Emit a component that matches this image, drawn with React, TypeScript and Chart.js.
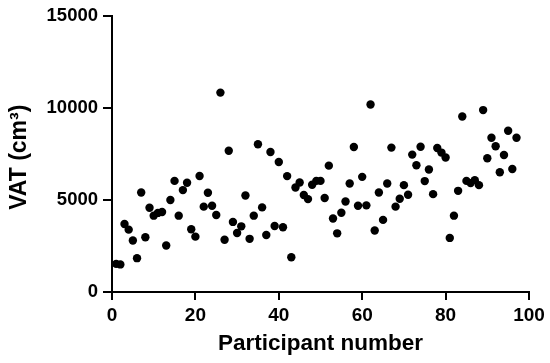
import { useEffect, useRef } from "react";
import { Chart, registerables } from "chart.js";

Chart.register(...registerables);

const participantNumbers = [
  1, 2, 3, 4, 5, 6, 7, 8, 9, 10, 11, 12, 13, 14, 15, 16, 17, 18, 19, 20,
  21, 22, 23, 24, 25, 26, 27, 28, 29, 30, 31, 32, 33, 34, 35, 36, 37, 38, 39, 40,
  41, 42, 43, 44, 45, 46, 47, 48, 49, 50, 51, 52, 53, 54, 55, 56, 57, 58, 59, 60,
  61, 62, 63, 64, 65, 66, 67, 68, 69, 70, 71, 72, 73, 74, 75, 76, 77, 78, 79, 80,
  81, 82, 83, 84, 85, 86, 87, 88, 89, 90, 91, 92, 93, 94, 95, 96, 97,
];

const vatValues = [
  1530, 1500, 3700, 3390, 2800, 1840, 5410, 2980, 4580, 4150,
  4300, 4350, 2530, 5000, 6040, 4150, 5540, 5940, 3410, 3010,
  6310, 4640, 5400, 4690, 4190, 10840, 2840, 7680, 3810, 3210,
  3570, 5250, 2890, 4150, 8030, 4600, 3100, 7610, 3590, 7070,
  3520, 6300, 1890, 5680, 5950, 5270, 5050, 5830, 6040, 6040,
  5110, 6870, 4000, 3190, 4310, 4920, 5900, 7880, 4690, 6260,
  4710, 10190, 3340, 5410, 3920, 5900, 7850, 4640, 5070, 5810,
  5290, 7470, 6890, 7900, 6030, 6660, 5320, 7830, 7580, 7310,
  2940, 4150, 5500, 9540, 6040, 5920, 6080, 5810, 9890, 7270,
  8390, 7920, 6510, 7450, 8770, 6690, 8390,
];

const xTickValues = [0, 20, 40, 60, 80, 100];
const yTickValues = [0, 5000, 10000, 15000];
const xAxisTitle = "Participant number";
const yAxisTitle = "VAT (cm³) ";

const FONT = "'Liberation Sans', Arial, Helvetica, sans-serif";

export default function App() {
  const ref = useRef<HTMLCanvasElement>(null);

  useEffect(() => {
    if (!ref.current) return;
    const chart = new Chart(ref.current, {
      type: "scatter",
      data: {
        datasets: [
          {
            data: participantNumbers.map((x, i) => ({ x, y: vatValues[i] })),
            backgroundColor: "#000",
            borderColor: "#000",
            borderWidth: 0,
            pointRadius: 4.2,
            pointHoverRadius: 4.2,
          },
        ],
      },
      options: {
        responsive: false,
        animation: false,
        layout: { padding: { left: 0, right: 21, top: 14, bottom: 0 } },
        plugins: {
          legend: { display: false },
          tooltip: { enabled: false },
        },
        scales: {
          x: {
            type: "linear",
            min: 0,
            max: 100,
            afterBuildTicks: (s: any) => {
              s.ticks = xTickValues.map((v) => ({ value: v }));
            },
            afterFit: (s: any) => {
              s.height = 71;
            },
            ticks: {
              color: "#000",
              padding: 4,
              maxRotation: 0,
              font: { family: FONT, size: 19, weight: "bold" },
              callback: (v: any) => String(v),
            },
            grid: {
              display: true,
              drawOnChartArea: false,
              drawTicks: true,
              tickLength: 8,
              tickWidth: 2,
              tickColor: "#000",
              color: "#000",
              lineWidth: 2,
            },
            border: { display: true, color: "#000", width: 2 },
            title: {
              display: true,
              text: xAxisTitle,
              color: "#000",
              font: { family: FONT, size: 22.5, weight: "bold" },
              padding: { top: 0, bottom: 6 },
            },
          },
          y: {
            type: "linear",
            min: 0,
            max: 15000,
            afterBuildTicks: (s: any) => {
              s.ticks = yTickValues.map((v) => ({ value: v }));
            },
            afterFit: (s: any) => {
              s.width = 112;
            },
            ticks: {
              color: "#000",
              padding: 5,
              font: { family: FONT, size: 18.5, weight: "bold" },
              callback: (v: any) => String(v),
            },
            grid: {
              display: true,
              drawOnChartArea: false,
              drawTicks: true,
              tickLength: 9,
              tickWidth: 2,
              tickColor: "#000",
              color: "#000",
              lineWidth: 2,
            },
            border: { display: true, color: "#000", width: 2 },
            title: {
              display: true,
              text: yAxisTitle,
              color: "#000",
              font: { family: FONT, size: 23, weight: "bold" },
              padding: { top: 6, bottom: 0 },
            },
          },
        },
      },
    });
    return () => chart.destroy();
  }, []);

  return (
    <div style={{ position: "absolute", left: 0, top: 0, width: 550, height: 363 }}>
      <canvas ref={ref} width={550} height={363} />
    </div>
  );
}
